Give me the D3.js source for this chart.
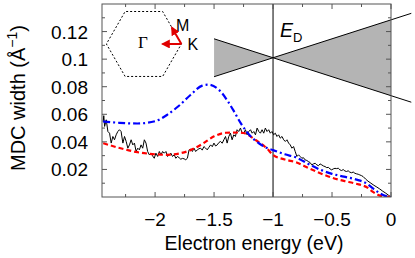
<!DOCTYPE html>
<html>
<head>
<meta charset="utf-8">
<script src="https://cdn.jsdelivr.net/npm/d3@7"></script>
<style>
  body { margin: 0; background: #fff; }
  svg text { font-family: "Liberation Sans", Arial, sans-serif; }
</style>
</head>
<body>
<div id="chart"></div>
<script>
// axis ticks
const xTicks = [-2, -1.5, -1, -0.5, 0];
const xTickLabels = ["−2", "−1.5", "−1", "−0.5", "0"];
const xMinor = [-2.25, -1.75, -1.25, -0.75, -0.25];
const yTicks = [0.02, 0.04, 0.06, 0.08, 0.1, 0.12];
const yTickLabels = ["0.02", "0.04", "0.06", "0.08", "0.1", "0.12"];
const yMinor = [0.01, 0.03, 0.05, 0.07, 0.09, 0.11, 0.13];

// measured MDC width [energy, width]
const measured = [
  [-2.44,0.0545],[-2.435,0.0590],[-2.428,0.0512],[-2.414,0.0560],[-2.400,0.0475],[-2.386,0.0463],
  [-2.372,0.0391],[-2.358,0.0439],[-2.344,0.0415],[-2.330,0.0451],[-2.316,0.0475],[-2.302,0.0488],
  [-2.288,0.0475],[-2.273,0.0391],[-2.259,0.0439],[-2.245,0.0403],[-2.231,0.0354],[-2.217,0.0378],
  [-2.203,0.0415],[-2.189,0.0378],[-2.175,0.0391],[-2.161,0.0330],[-2.147,0.0354],[-2.133,0.0342],
  [-2.119,0.0378],[-2.105,0.0354],[-2.091,0.0415],[-2.077,0.0391],[-2.063,0.0330],[-2.049,0.0306],
  [-2.035,0.0318],[-2.021,0.0298],[-2.007,0.0281],[-1.993,0.0318],[-1.978,0.0294],[-1.964,0.0330],
  [-1.950,0.0306],[-1.936,0.0330],[-1.922,0.0318],[-1.908,0.0330],[-1.894,0.0294],[-1.880,0.0306],
  [-1.866,0.0318],[-1.852,0.0294],[-1.838,0.0306],[-1.824,0.0281],[-1.810,0.0294],[-1.796,0.0285],
  [-1.782,0.0274],[-1.768,0.0280],[-1.754,0.0277],[-1.740,0.0270],[-1.726,0.0281],[-1.712,0.0342],
  [-1.698,0.0347],[-1.684,0.0330],[-1.670,0.0354],[-1.656,0.0330],[-1.642,0.0342],[-1.628,0.0350],
  [-1.614,0.0354],[-1.600,0.0340],[-1.586,0.0366],[-1.572,0.0355],[-1.558,0.0342],[-1.544,0.0360],
  [-1.529,0.0378],[-1.515,0.0365],[-1.501,0.0391],[-1.487,0.0370],[-1.473,0.0378],[-1.459,0.0395],
  [-1.445,0.0403],[-1.431,0.0390],[-1.417,0.0415],[-1.403,0.0439],[-1.389,0.0391],[-1.375,0.0439],
  [-1.361,0.0463],[-1.347,0.0415],[-1.333,0.0451],[-1.319,0.0439],[-1.305,0.0488],[-1.291,0.0475],
  [-1.276,0.0500],[-1.262,0.0463],[-1.248,0.0463],[-1.234,0.0488],[-1.220,0.0451],[-1.206,0.0475],
  [-1.191,0.0488],[-1.177,0.0463],[-1.163,0.0475],[-1.149,0.0451],[-1.135,0.0500],[-1.121,0.0475],
  [-1.107,0.0463],[-1.093,0.0488],[-1.079,0.0463],[-1.065,0.0500],[-1.051,0.0475],[-1.037,0.0488],
  [-1.023,0.0463],[-1.009,0.0475],[-0.995,0.0451],[-0.981,0.0463],[-0.967,0.0439],[-0.953,0.0451],
  [-0.939,0.0427],[-0.924,0.0439],[-0.910,0.0415],[-0.896,0.0403],[-0.882,0.0415],[-0.868,0.0391],
  [-0.854,0.0378],[-0.840,0.0354],[-0.826,0.0366],[-0.812,0.0330],[-0.798,0.0294],[-0.784,0.0306],
  [-0.770,0.0294],[-0.756,0.0281],[-0.742,0.0285],[-0.728,0.0269],[-0.714,0.0265],[-0.700,0.0257],
  [-0.686,0.0250],[-0.672,0.0233],[-0.658,0.0240],[-0.643,0.0245],[-0.629,0.0233],[-0.615,0.0227],
  [-0.601,0.0240],[-0.587,0.0233],[-0.573,0.0225],[-0.559,0.0221],[-0.545,0.0213],[-0.531,0.0215],
  [-0.517,0.0204],[-0.503,0.0197],[-0.489,0.0204],[-0.475,0.0208],[-0.461,0.0206],[-0.447,0.0209],
  [-0.433,0.0197],[-0.419,0.0192],[-0.405,0.0199],[-0.391,0.0189],[-0.377,0.0185],[-0.363,0.0190],
  [-0.349,0.0180],[-0.334,0.0176],[-0.320,0.0181],[-0.306,0.0172],[-0.292,0.0168],[-0.278,0.0165],
  [-0.264,0.0160],[-0.250,0.0155],[-0.236,0.0148],[-0.215,0.0130],[-0.195,0.0115],[-0.170,0.0100],
  [-0.145,0.0085],[-0.120,0.0072],[-0.095,0.0058],[-0.070,0.0042],[-0.045,0.0028],[-0.020,0.0012],
  [0,0]
];

// model curves [energy, width]
const modelRed = [
  [-2.44,0.0390],[-2.3,0.0355],[-2.15,0.0325],[-2.0,0.0310],[-1.9,0.0306],[-1.8,0.0315],
  [-1.7,0.0340],[-1.6,0.0385],[-1.5,0.0440],[-1.4,0.0466],[-1.3,0.0468],[-1.25,0.0464],
  [-1.15,0.0415],[-1.05,0.0350],[-1.0,0.0305],[-0.9,0.0272],[-0.8,0.0250],[-0.7,0.0210],
  [-0.6,0.0172],[-0.5,0.0140],[-0.4,0.0117],[-0.3,0.0097],[-0.2,0.0068],[-0.15,0.0035],
  [-0.1,0.0012],[-0.05,0.0003],[0,0]
];
const modelBlue = [
  [-2.44,0.0548],[-2.3,0.0538],[-2.15,0.0533],[-2.0,0.0550],[-1.9,0.0595],[-1.8,0.0660],
  [-1.7,0.0740],[-1.6,0.0808],[-1.55,0.0815],[-1.45,0.0770],[-1.38,0.0690],[-1.33,0.0620],
  [-1.27,0.0530],[-1.2,0.0450],[-1.12,0.0390],[-1.05,0.0355],[-1.0,0.0340],[-0.9,0.0310],
  [-0.8,0.0285],[-0.7,0.0240],[-0.6,0.0198],[-0.5,0.0168],[-0.4,0.0148],[-0.3,0.0128],
  [-0.2,0.0095],[-0.15,0.0060],[-0.1,0.0030],[-0.05,0.0008],[0,0]
];

// Dirac cone sketch
const diracE = -1, diracW = 0.101, coneSlope = 0.0275;
const coneStart = -1.5, coneFillEnd = 0, coneLineEnd = 0.172;

// Brillouin zone inset (centre in data units)
const bzCenter = [-2.095, 0.111];

const margin = { top: 4, right: 24, bottom: 61, left: 102 };
const width = 415 - margin.left - margin.right;
const height = 258 - margin.top - margin.bottom;

const svg = d3.select("#chart").append("svg")
  .attr("width", 415).attr("height", 258);
const g = svg.append("g").attr("transform", `translate(${margin.left},${margin.top})`);

const x = d3.scaleLinear().domain([-2.45, 0]).range([0, width]);
const y = d3.scaleLinear().domain([0, 0.14]).range([height, 0]);

svg.append("defs").append("clipPath").attr("id", "clip")
  .append("rect").attr("width", width).attr("height", height);

// cone fill
const coneUp = e => diracW + coneSlope * Math.abs(e - diracE);
const coneDn = e => diracW - coneSlope * Math.abs(e - diracE);
const area = d3.area().x(d => x(d)).y0(d => y(coneDn(d))).y1(d => y(coneUp(d)));
g.append("path").attr("d", area([coneStart, diracE, coneFillEnd]))
  .attr("fill", "#b4b4b4");
const cl = d3.line().x(d => x(d[0])).y(d => y(d[1]));
g.append("path").attr("d", cl([[coneStart, coneUp(coneStart)], [diracE, diracW], [coneLineEnd, coneDn(coneLineEnd)]]))
  .attr("fill", "none").attr("stroke", "#000").attr("stroke-width", 1);
g.append("path").attr("d", cl([[coneStart, coneDn(coneStart)], [diracE, diracW], [coneLineEnd, coneUp(coneLineEnd)]]))
  .attr("fill", "none").attr("stroke", "#000").attr("stroke-width", 1);

// vertical line at E_D
g.append("line").attr("x1", x(diracE)).attr("x2", x(diracE))
  .attr("y1", 0).attr("y2", height).attr("stroke", "#000").attr("stroke-width", 1);

// data lines
const plot = g.append("g").attr("clip-path", "url(#clip)");
plot.append("path").attr("d", d3.line().x(d => x(d[0])).y(d => y(d[1]))(measured))
  .attr("fill", "none").attr("stroke", "#000").attr("stroke-width", 1);
const smooth = d3.line().curve(d3.curveMonotoneX).x(d => x(d[0])).y(d => y(d[1]));
plot.append("path").attr("d", smooth(modelRed))
  .attr("fill", "none").attr("stroke", "#ff0000").attr("stroke-width", 2.2)
  .attr("stroke-dasharray", "5,3");
plot.append("path").attr("d", smooth(modelBlue))
  .attr("fill", "none").attr("stroke", "#0000ff").attr("stroke-width", 2.2)
  .attr("stroke-dasharray", "7,3,2,3");

// frame and ticks (mirrored, inward)
g.append("rect").attr("width", width).attr("height", height)
  .attr("fill", "none").attr("stroke", "#555").attr("stroke-width", 1);
const tickG = g.append("g").attr("stroke", "#555").attr("stroke-width", 1);
[[xTicks, 5], [xMinor, 3]].forEach(([vals, len]) => {
  vals.forEach(v => {
    tickG.append("line").attr("x1", x(v)).attr("x2", x(v)).attr("y1", height).attr("y2", height - len);
    tickG.append("line").attr("x1", x(v)).attr("x2", x(v)).attr("y1", 0).attr("y2", len);
  });
});
[[yTicks, 5], [yMinor, 3]].forEach(([vals, len]) => {
  vals.forEach(v => {
    tickG.append("line").attr("y1", y(v)).attr("y2", y(v)).attr("x1", 0).attr("x2", len);
    tickG.append("line").attr("y1", y(v)).attr("y2", y(v)).attr("x1", width).attr("x2", width - len);
  });
});

// tick labels
g.selectAll(".xl").data(xTicks).enter().append("text")
  .attr("x", d => x(d)).attr("y", height + 29)
  .attr("text-anchor", "middle").attr("font-size", "19px")
  .text((d, i) => xTickLabels[i]);
g.selectAll(".yl").data(yTicks).enter().append("text")
  .attr("x", -14).attr("y", d => y(d) + 7)
  .attr("text-anchor", "end").attr("font-size", "19px")
  .text((d, i) => yTickLabels[i]);

// axis titles
svg.append("text").attr("x", 254).attr("y", 250)
  .attr("text-anchor", "middle").attr("font-size", "19.5px")
  .text("Electron energy (eV)");
const yt = svg.append("text").attr("transform", "translate(25,98) rotate(-90)")
  .attr("text-anchor", "middle").attr("font-size", "20px");
yt.append("tspan").text("MDC width (Å");
yt.append("tspan").attr("font-size", "14px").attr("dy", -8).text("−1");
yt.append("tspan").attr("dy", 8).text(")");

// E_D label
const ed = g.append("text").attr("x", x(diracE) + 7).attr("y", 33).attr("font-size", "19.5px");
ed.append("tspan").attr("font-style", "italic").text("E");
ed.append("tspan").attr("font-size", "13px").attr("dy", 5).text("D");

// Brillouin zone inset
const cx = x(bzCenter[0]), cy = y(bzCenter[1]), R = 37.5;
const hex = d3.range(7).map(i => [cx + R * Math.cos(i * Math.PI / 3), cy - R * Math.sin(i * Math.PI / 3)]);
g.append("path").attr("d", d3.line()(hex))
  .attr("fill", "none").attr("stroke", "#000").attr("stroke-width", 1)
  .attr("stroke-dasharray", "2,2");
g.append("text").attr("x", cx - 1).attr("y", cy + 4)
  .attr("text-anchor", "middle").attr("font-size", "17px")
  .style("font-family", "'Liberation Serif', 'Times New Roman', serif")
  .text("Γ");

svg.select("defs").append("marker").attr("id", "arr")
  .attr("viewBox", "0 0 10 10").attr("refX", 8).attr("refY", 5)
  .attr("markerWidth", 4.5).attr("markerHeight", 4.5).attr("orient", "auto")
  .append("path").attr("d", "M0,0L10,5L0,10Z").attr("fill", "#e00000");
const K = hex[0];
const Mpt = [(hex[0][0] + hex[1][0]) / 2, (hex[0][1] + hex[1][1]) / 2];
const toG = [K[0] - R / 2, K[1]];
[[K, Mpt], [K, toG]].forEach(([a, b]) => {
  g.append("line").attr("x1", a[0]).attr("y1", a[1]).attr("x2", b[0]).attr("y2", b[1])
    .attr("stroke", "#e00000").attr("stroke-width", 2).attr("marker-end", "url(#arr)");
});
g.append("text").attr("x", Mpt[0] + 4).attr("y", Mpt[1] + 3).attr("font-size", "16px").text("M");
g.append("text").attr("x", K[0] + 6).attr("y", K[1] + 6).attr("font-size", "16px").text("K");
</script>
</body>
</html>
